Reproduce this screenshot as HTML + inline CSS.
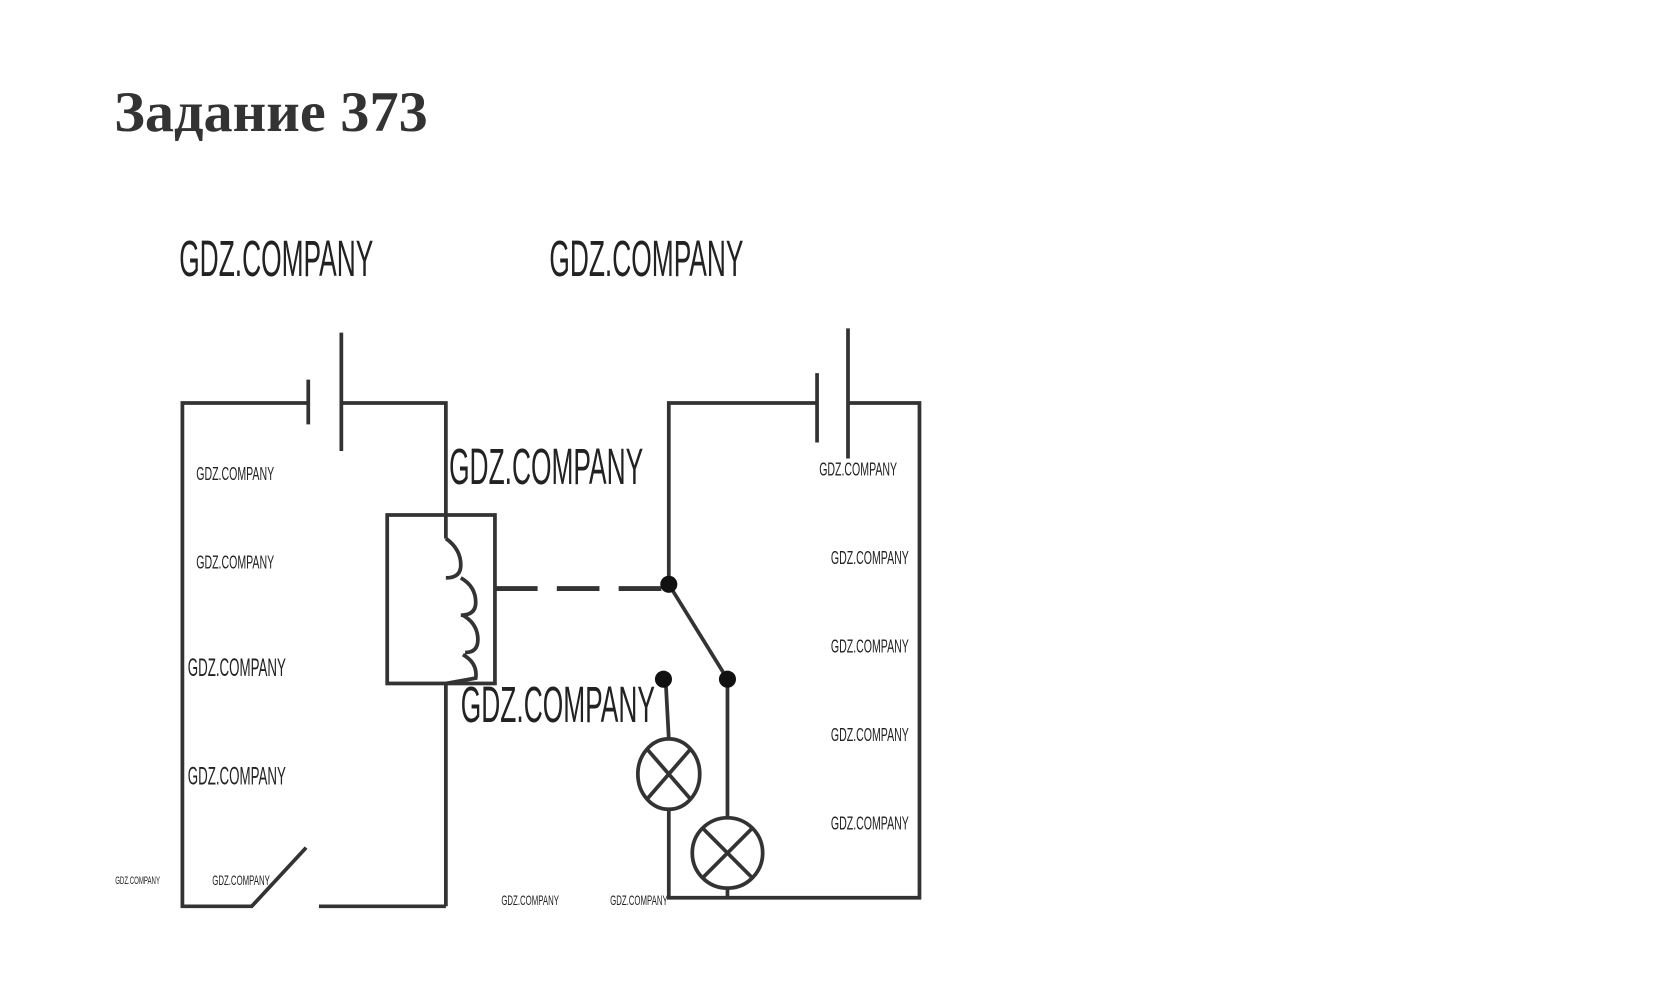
<!DOCTYPE html>
<html><head><meta charset="utf-8"><style>
html,body{margin:0;padding:0;background:#fff;}
svg{display:block;}
.t{font-family:"Liberation Sans",sans-serif;fill:#222;}
</style></head><body>
<svg width="1664" height="998" viewBox="0 0 1560 936" preserveAspectRatio="none" xmlns="http://www.w3.org/2000/svg">
<text x="107" y="123" font-family="Liberation Serif, serif" font-weight="bold" font-size="54" fill="#333" textLength="294" lengthAdjust="spacingAndGlyphs">Задание 373</text>
<g class="t">
<text x="168" y="259" font-size="48" textLength="182" lengthAdjust="spacingAndGlyphs">GDZ.COMPANY</text>
<text x="515" y="259" font-size="48" textLength="182" lengthAdjust="spacingAndGlyphs">GDZ.COMPANY</text>
<text x="421" y="454" font-size="48" textLength="182" lengthAdjust="spacingAndGlyphs">GDZ.COMPANY</text>
<text x="432" y="677" font-size="48" textLength="182" lengthAdjust="spacingAndGlyphs">GDZ.COMPANY</text>
<text x="184" y="450" font-size="17" textLength="73" lengthAdjust="spacingAndGlyphs">GDZ.COMPANY</text>
<text x="184" y="533" font-size="17" textLength="73" lengthAdjust="spacingAndGlyphs">GDZ.COMPANY</text>
<text x="176" y="634" font-size="23" textLength="92" lengthAdjust="spacingAndGlyphs">GDZ.COMPANY</text>
<text x="176" y="736" font-size="23" textLength="92" lengthAdjust="spacingAndGlyphs">GDZ.COMPANY</text>
<text x="768" y="446" font-size="17" textLength="73" lengthAdjust="spacingAndGlyphs">GDZ.COMPANY</text>
<text x="779" y="529" font-size="17" textLength="73" lengthAdjust="spacingAndGlyphs">GDZ.COMPANY</text>
<text x="779" y="612" font-size="17" textLength="73" lengthAdjust="spacingAndGlyphs">GDZ.COMPANY</text>
<text x="779" y="695" font-size="17" textLength="73" lengthAdjust="spacingAndGlyphs">GDZ.COMPANY</text>
<text x="779" y="778" font-size="17" textLength="73" lengthAdjust="spacingAndGlyphs">GDZ.COMPANY</text>
<text x="108" y="829" font-size="10" textLength="42" lengthAdjust="spacingAndGlyphs">GDZ.COMPANY</text>
<text x="199" y="830" font-size="13" textLength="54" lengthAdjust="spacingAndGlyphs">GDZ.COMPANY</text>
<text x="470" y="849" font-size="13" textLength="54" lengthAdjust="spacingAndGlyphs">GDZ.COMPANY</text>
<text x="572" y="849" font-size="13" textLength="54" lengthAdjust="spacingAndGlyphs">GDZ.COMPANY</text>
</g>
<g stroke="#333" stroke-width="3.5" fill="none">
<!-- left circuit -->
<polyline points="289,378 171,378 171,850 236,850 287,795"/>
<polyline points="320,378 418,378 418,505"/>
<line x1="299" y1="850" x2="418" y2="850"/>
<line x1="418" y1="641" x2="418" y2="850"/>
<line x1="289" y1="356" x2="289" y2="398"/>
<line x1="320" y1="312" x2="320" y2="423"/>
<rect x="363" y="483" width="101" height="158"/>
<path d="M418,505 q14,10 14,25 q0,12 -14,12 M432,542 q14,8 14,23 q0,12 -14,12 M434,577 q14,8 14,23 q0,12 -12,12 M434,614 q14,8 12,22 l-28,5"/>
<line x1="464" y1="552" x2="627" y2="552" stroke-dasharray="40,18" stroke-width="4.5"/>
<!-- right circuit -->
<polyline points="627,548 627,378 766,378"/>
<polyline points="795,378 862,378 862,842 627,842 627,759"/>
<line x1="766" y1="350" x2="766" y2="415"/>
<line x1="795" y1="308" x2="795" y2="430"/>
<line x1="627" y1="548" x2="682" y2="637"/>
<line x1="624" y1="637" x2="627" y2="693"/>
<ellipse cx="627" cy="726" rx="29" ry="33"/>
<line x1="607" y1="703" x2="647" y2="749"/>
<line x1="647" y1="703" x2="607" y2="749"/>
<line x1="682" y1="637" x2="682" y2="767"/>
<ellipse cx="682" cy="800" rx="33" ry="33"/>
<line x1="659" y1="777" x2="705" y2="823"/>
<line x1="705" y1="777" x2="659" y2="823"/>
<line x1="682" y1="833" x2="682" y2="842"/>
</g>
<g fill="#111">
<circle cx="627" cy="548" r="8"/>
<circle cx="622" cy="637" r="8"/>
<circle cx="682" cy="637" r="8"/>
</g>
</svg>
</body></html>
